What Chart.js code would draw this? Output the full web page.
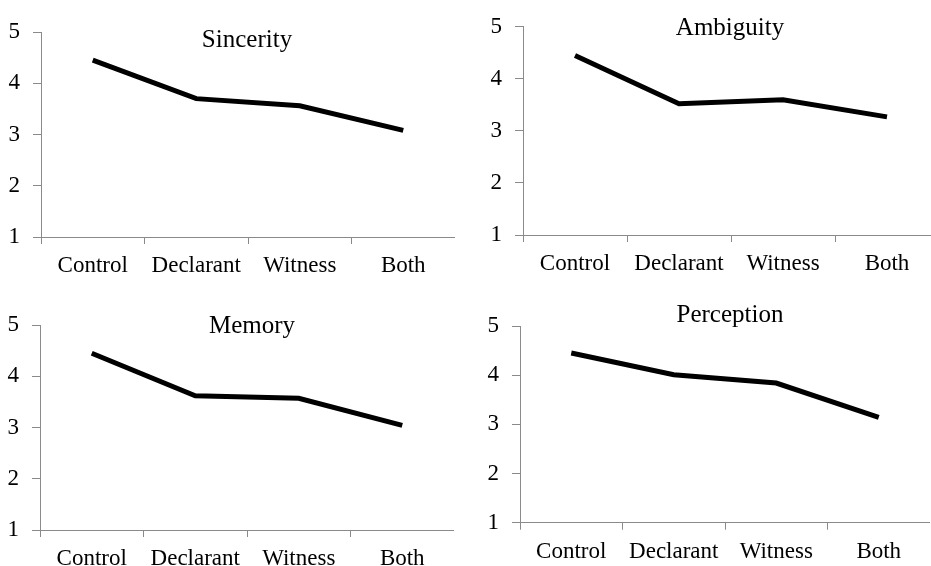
<!DOCTYPE html>
<html>
<head>
<meta charset="utf-8">
<script src="https://cdn.jsdelivr.net/npm/chart.js@4.4.0/dist/chart.umd.min.js"></script>
<style>
    html, body { margin: 0; padding: 0; background: #fff; overflow: hidden; }
    body { width: 931px; height: 566px; position: relative; }
    canvas { position: absolute; }
</style>
</head>
<body>
<canvas id="grafico-0"></canvas>
<canvas id="grafico-1"></canvas>
<canvas id="grafico-2"></canvas>
<canvas id="grafico-3"></canvas>

<script>
const categorias = ['Control', 'Declarant', 'Witness', 'Both'];
const titulos = ['Sincerity', 'Ambiguity', 'Memory', 'Perception'];
const yMin = 1;
const yMax = 5;

const sincerity = [4.45, 3.70, 3.56, 3.08];
const ambiguity = [4.45, 3.52, 3.60, 3.27];
const memory = [4.45, 3.62, 3.57, 3.04];
const perception = [4.45, 4.01, 3.84, 3.14];

const series = [sincerity, ambiguity, memory, perception];

// posicao de cada painel na pagina (px)
const paineis = [
    { left: 0,   top: 0,   width: 455, height: 282, areaTop: 32, yWidth: 41, xHeight: 45,   titleX: 247, titleY: 47 },
    { left: 470, top: 0,   width: 469, height: 280, areaTop: 19, yWidth: 53, xHeight: 45,   titleX: 260, titleY: 35 },
    { left: 0,   top: 283, width: 454, height: 283, areaTop: 42, yWidth: 40, xHeight: 36,   titleX: 252, titleY: 50 },
    { left: 470, top: 283, width: 460, height: 283, areaTop: 43, yWidth: 50, xHeight: 43.3, titleX: 260, titleY: 39 }
];

const corEixo = '#8a8a8a';
const fonte = "'Liberation Serif', 'Times New Roman', serif";

const tituloPlugin = {
    id: 'tituloPainel',
    afterDraw(chart, args, opts) {
        const ctx = chart.ctx;
        ctx.save();
        ctx.fillStyle = '#000';
        ctx.font = '25px ' + fonte;
        ctx.textAlign = 'center';
        ctx.textBaseline = 'alphabetic';
        ctx.fillText(opts.text, opts.x, opts.y);
        ctx.restore();
    }
};

paineis.forEach((p, i) => {
    const canvas = document.getElementById('grafico-' + i);
    canvas.width = p.width;
    canvas.height = p.height;
    canvas.style.left = p.left + 'px';
    canvas.style.top = p.top + 'px';

    new Chart(canvas.getContext('2d'), {
        type: 'line',
        data: {
            labels: categorias,
            datasets: [{
                data: series[i],
                borderColor: '#000',
                backgroundColor: '#000',
                borderWidth: 5,
                pointRadius: 0,
                tension: 0,
                fill: false
            }]
        },
        plugins: [tituloPlugin],
        options: {
            responsive: false,
            animation: false,
            devicePixelRatio: 1,
            layout: {
                padding: { top: p.areaTop, left: 0, right: 0, bottom: 0 }
            },
            plugins: {
                legend: { display: false },
                tooltip: { enabled: false },
                tituloPainel: { text: titulos[i], x: p.titleX, y: p.titleY }
            },
            scales: {
                x: {
                    offset: true,
                    grid: {
                        offset: true,
                        drawOnChartArea: false,
                        drawTicks: true,
                        tickLength: 7,
                        color: corEixo
                    },
                    border: { display: true, color: corEixo, width: 1 },
                    ticks: {
                        color: '#000',
                        font: { family: fonte, size: 23 },
                        padding: 8,
                        maxRotation: 0,
                        autoSkip: false
                    },
                    afterFit(scale) {
                        scale.height = p.xHeight;
                    }
                },
                y: {
                    min: yMin,
                    max: yMax,
                    grid: {
                        drawOnChartArea: false,
                        drawTicks: true,
                        tickLength: 8,
                        color: corEixo
                    },
                    border: { display: true, color: corEixo, width: 1 },
                    ticks: {
                        stepSize: 1,
                        color: '#000',
                        font: { family: fonte, size: 23 },
                        padding: 13
                    },
                    afterFit(scale) {
                        scale.width = p.yWidth;
                    }
                }
            }
        }
    });
});
</script>
</body>
</html>
